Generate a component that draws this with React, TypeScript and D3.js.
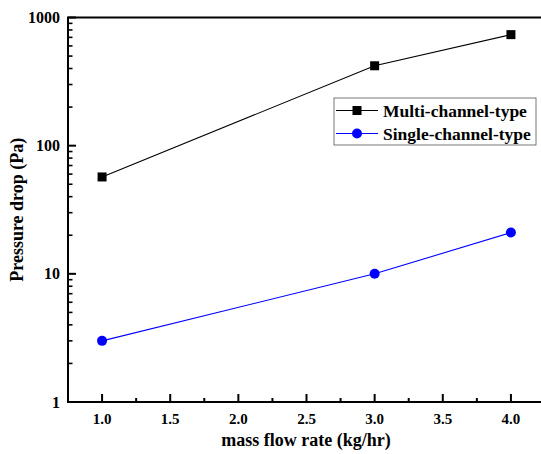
import * as d3 from "d3"

const flowRates = [1.0, 3.0, 4.0]
const multiChannel = [57, 420, 735]
const singleChannel = [3, 10, 21]
const xTicks = [1.0, 1.5, 2.0, 2.5, 3.0, 3.5, 4.0]
const xMinorTicks = [0.75, 1.25, 1.75, 2.25, 2.75, 3.25, 3.75, 4.25]
const yTicks = [1, 10, 100, 1000]
const seriesNames = ["Multi-channel-type", "Single-channel-type"]

const W = 541
const H = 454
const FONT = "'Liberation Serif', 'Times New Roman', serif"

const left = 68, top = 17.5, bottom = 402, right = 545
const x = d3.scaleLinear().domain([0.75, 4.25]).range([left, right])
const y = d3.scaleLog().domain([1, 1000]).range([bottom, top])

const yMinor: number[] = []
for (let dec = 1; dec < 1000; dec *= 10) {
  for (let k = 2; k <= 9; k++) yMinor.push(dec * k)
}

const line = d3.line<number>()
  .x((_, i) => x(flowRates[i]))
  .y(d => y(d))

const bold = { fontFamily: FONT, fontWeight: "bold" as const }

const App = () => {
  const colors = ["#000", "#0000ff"]
  return (
    <div style={{ position: "absolute", left: 0, top: 0 }}>
      <svg width={W} height={H} style={{ display: "block", background: "#fff" }}>
        {/* x ticks, inward */}
        {xTicks.map(t => (
          <g key={"xt" + t}>
            <line x1={x(t)} x2={x(t)} y1={bottom} y2={bottom - 8} stroke="#000" strokeWidth={2} />
            <text x={x(t)} y={424} textAnchor="middle" style={{ ...bold, fontSize: 15 }}>{t.toFixed(1)}</text>
          </g>
        ))}
        {xMinorTicks.map(t => (
          <line key={"xm" + t} x1={x(t)} x2={x(t)} y1={bottom} y2={bottom - 4} stroke="#000" strokeWidth={2} />
        ))}
        {/* y ticks, inward */}
        {yTicks.map(t => (
          <g key={"yt" + t}>
            <line x1={left} x2={left + 8} y1={y(t)} y2={y(t)} stroke="#000" strokeWidth={2} />
            <text x={left - 8} y={y(t) + 5.5} textAnchor="end" style={{ ...bold, fontSize: 16 }}>{t}</text>
          </g>
        ))}
        {yMinor.map(t => (
          <line key={"ym" + t} x1={left} x2={left + 4.5} y1={y(t)} y2={y(t)} stroke="#000" strokeWidth={1.6} />
        ))}
        {/* frame */}
        <rect x={left} y={top} width={right - left} height={bottom - top} fill="none" stroke="#000" strokeWidth={2} />

        {/* axis titles */}
        <text x={306} y={446} textAnchor="middle" style={{ ...bold, fontSize: 18 }}>mass flow rate (kg/hr)</text>
        <text transform={`translate(23,${(top + bottom) / 2}) rotate(-90)`} textAnchor="middle" style={{ ...bold, fontSize: 18 }}>
          Pressure drop (Pa)
        </text>

        {/* multi-channel series */}
        <path d={line(multiChannel) ?? ""} fill="none" stroke="#000" strokeWidth={1.1} />
        {multiChannel.map((v, i) => (
          <rect key={"sq" + i} x={x(flowRates[i]) - 4.5} y={y(v) - 4.5} width={9} height={9} fill="#000" />
        ))}

        {/* single-channel series */}
        <path d={line(singleChannel) ?? ""} fill="none" stroke="#0000ff" strokeWidth={1.1} />
        {singleChannel.map((v, i) => (
          <circle key={"ci" + i} cx={x(flowRates[i])} cy={y(v)} r={5} fill="#0000ff" />
        ))}

        {/* legend */}
        <g transform="translate(334,98)">
          <rect width={202} height={47} fill="#fff" stroke="#555" strokeWidth={0.8} />
          {seriesNames.map((name, i) => {
            const cy = 12.5 + i * 23
            return (
              <g key={name}>
                <line x1={2} x2={44} y1={cy} y2={cy} stroke={colors[i]} strokeWidth={1.2} />
                {i === 0
                  ? <rect x={18.5} y={cy - 4.5} width={9} height={9} fill={colors[i]} />
                  : <circle cx={23} cy={cy} r={5} fill={colors[i]} />}
                <text x={49} y={cy + 6} style={{ ...bold, fontSize: 17.5 }}>{name}</text>
              </g>
            )
          })}
        </g>
      </svg>
    </div>
  )
}

export default App
